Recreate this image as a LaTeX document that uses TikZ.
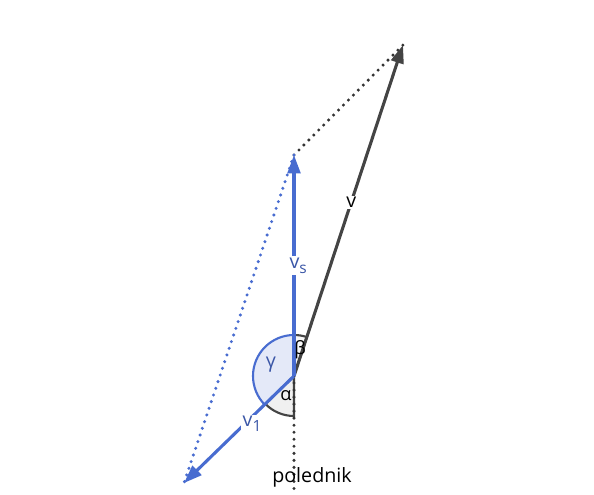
\documentclass[tikz,border=0pt]{standalone}
\usepackage{fontspec}
\setmainfont{Open Sans}
\usetikzlibrary{arrows.meta}
\definecolor{vecblue}{RGB}{72,108,208}
\definecolor{vecgray}{RGB}{68,68,68}
\newcommand{\idx}[1]{\raisebox{-0.45ex}{\fontsize{11}{12}\selectfont #1}}
\tikzset{
  vec/.style={line width=2.2pt,-{Triangle[length=13pt,width=9pt]}},
  dots/.style={line width=2.4pt,line cap=round,dash pattern=on 0pt off 5pt},
  lbl/.style={fill=white,inner sep=1pt,font=\fontsize{14}{16}\selectfont}
}
\begin{document}
\begin{tikzpicture}[x=0.025cm,y=0.025cm]
	\useasboundingbox (0,0) rectangle (594,495);
	\coordinate (O) at (294,119);
	\coordinate (S) at (294,340);
	\coordinate (V) at (403,450);
	\coordinate (W) at (184,12);
	\coordinate (P) at (294,0);
	
	% uhly
	\draw[vecgray,line width=1.5pt,fill=gray!12] (O) -- ++(224.2:40) arc[start angle=224.2,end angle=270,radius=40] -- cycle;
	\draw[vecgray,line width=1.5pt,fill=gray!6] (O) -- ++(71.8:41) arc[start angle=71.8,end angle=90,radius=41] -- cycle;
	\draw[vecblue,line width=1.5pt,fill=vecblue!15] (O) -- ++(90:41) arc[start angle=90,end angle=224.2,radius=41] -- cycle;
	
	% rovnobeznik
	\draw[dots,black!80] (S) -- (V);
	\draw[dots,vecblue] (S) -- (W);
	\draw[dots,black!80] (O) -- (P);
	
	% vektory
	\draw[vec,vecgray] (O) -- (V) node[lbl,text=black,pos=0.525]{v};
	\draw[vec,vecblue] (O) -- (S) node[lbl,text=vecblue!80!black,pos=0.5,xshift=3pt]{v\idx{s}};
	\draw[vec,vecblue] (O) -- (W) node[lbl,text=vecblue!80!black,pos=0.42,xshift=3pt,yshift=-2pt]{v\idx{1}};
	
	\node[font=\fontsize{14}{16}\selectfont,text=vecblue!80!black] (g) at (271,130) {γ};
	\node[font=\fontsize{13}{16}\selectfont] (b) at (300,145) {β};
	\node[font=\fontsize{13}{16}\selectfont] (a) at (286,99) {α};
	\node[font=\fontsize{14}{16}\selectfont] (pol) at (312,18) {polednik};
\end{tikzpicture}
\end{document}
